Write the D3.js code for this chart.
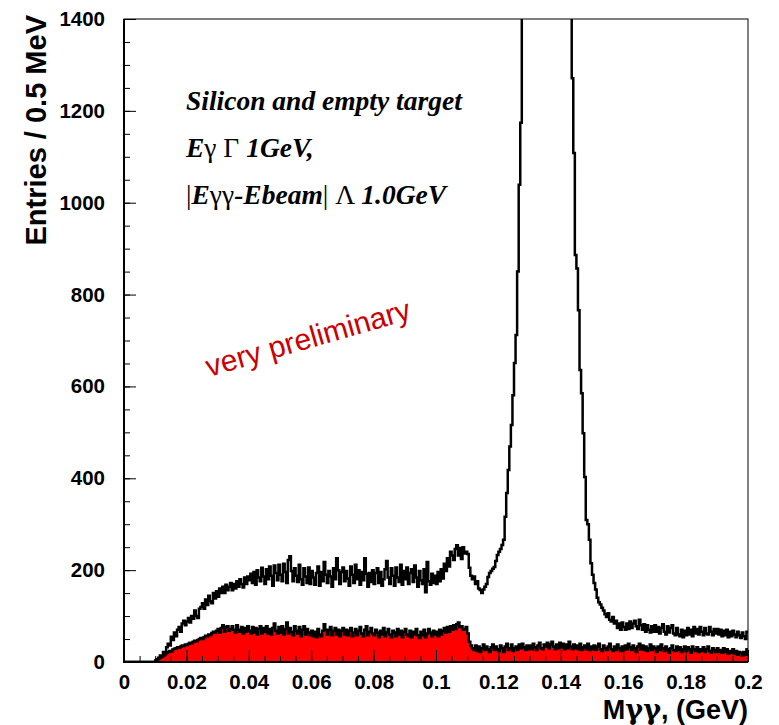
<!DOCTYPE html>
<html>
<head>
<meta charset="utf-8">
<script src="https://cdn.jsdelivr.net/npm/d3@7"></script>
<style>
  body { margin: 0; background: #fff; }
  svg { display: block; }
</style>
</head>
<body>
<svg id="chart" width="779" height="725"></svg>
<script>
// Diphoton invariant mass spectrum, 0.5 MeV bins from 0 to 0.2 GeV
const binWidth = 0.0005;

const xTickValues = [0, 0.02, 0.04, 0.06, 0.08, 0.1, 0.12, 0.14, 0.16, 0.18, 0.2];
const xTickLabels = ["0", "0.02", "0.04", "0.06", "0.08", "0.1", "0.12", "0.14", "0.16", "0.18", "0.2"];
const yTickValues = [0, 200, 400, 600, 800, 1000, 1200, 1400];

// Silicon target, entries per bin (one row = 20 bins = 0.01 GeV)
const siliconCounts = [
  0, 0, 0, 0, 0, 0, 0, 0, 0, 0, 0, 0, 0, 0, 0, 0, 0, 0, 0, 0,
  2, 6, 9, 14, 12, 22, 20, 32, 40, 36, 55, 48, 64, 56, 70, 76, 66, 84, 90, 80,
  88, 96, 86, 100, 94, 112, 100, 96, 116, 120, 128, 116, 136, 124, 144, 132, 128, 150, 138, 154,
  142, 160, 150, 164, 150, 168, 156, 164, 172, 156, 170, 160, 176, 164, 180, 170, 162, 184, 170, 186,
  178, 192, 172, 196, 168, 200, 184, 176, 205, 186, 170, 202, 180, 208, 188, 166, 210, 194, 178, 212,
  190, 176, 214, 196, 172, 222, 230, 198, 176, 204, 188, 174, 212, 180, 168, 204, 186, 172, 206, 170,
  198, 184, 168, 194, 208, 166, 196, 176, 218, 190, 172, 198, 186, 164, 204, 180, 226, 200, 170, 196,
  206, 176, 198, 182, 166, 208, 190, 172, 212, 180, 200, 168, 196, 178, 226, 192, 164, 194, 174, 200,
  170, 194, 204, 172, 196, 166, 180, 202, 220, 184, 170, 204, 188, 166, 206, 184, 174, 212, 168, 198,
  180, 206, 170, 194, 202, 174, 210, 184, 164, 198, 178, 170, 202, 152, 218, 176, 168, 192, 172, 188,
  170, 196, 176, 202, 182, 214, 198, 226, 208, 240, 232, 222, 246, 254, 232, 248, 224, 250, 236, 240,
  235, 205, 188, 180, 186, 170, 176, 160, 157, 150, 158, 164, 170, 185, 194, 198, 203, 207, 220, 233,
  240, 246, 255, 266, 316, 368, 418, 469, 516, 581, 651, 712, 850, 1039, 1174, 1460, 1650, 1880, 2120, 2380,
  2650, 2900, 3150, 3380, 3580, 3760, 3900, 4010, 4080, 4120, 4140, 4120, 4060, 3980, 3850, 3690, 3500, 3280, 3040, 2790,
  2530, 2270, 2020, 1800, 1620, 1500, 1420, 1271, 1108, 886, 857, 766, 636, 585, 498, 403, 309, 300, 266, 215,
  190, 172, 158, 140, 130, 125, 118, 112, 104, 98, 106, 92, 88, 98, 84, 90, 74, 84, 70, 86,
  76, 70, 84, 72, 88, 74, 84, 90, 78, 72, 92, 80, 70, 82, 66, 80, 70, 64, 78, 66,
  80, 66, 76, 62, 74, 82, 66, 60, 78, 64, 74, 80, 62, 58, 74, 60, 56, 70, 54, 68,
  58, 74, 60, 70, 56, 76, 62, 72, 60, 76, 66, 58, 74, 62, 60, 76, 66, 58, 72, 62,
  72, 60, 70, 56, 68, 58, 70, 54, 66, 56, 68, 60, 54, 66, 58, 52, 64, 56, 50, 66
];

// Empty target, entries per bin
const emptyCounts = [
  0, 0, 0, 0, 0, 0, 0, 0, 0, 0, 0, 0, 0, 0, 0, 0, 0, 0, 0, 0,
  3, 6, 8, 10, 12, 14, 17, 20, 22, 24, 23, 27, 29, 30, 32, 31, 34, 36, 35, 38,
  37, 40, 42, 41, 44, 46, 45, 48, 50, 52, 50, 54, 57, 56, 60, 59, 63, 66, 64, 68,
  72, 64, 74, 80, 66, 76, 78, 68, 72, 78, 70, 64, 80, 70, 66, 76, 62, 74, 66, 78,
  68, 62, 76, 64, 74, 60, 72, 78, 62, 74, 66, 78, 62, 72, 60, 74, 84, 68, 62, 76,
  64, 78, 60, 72, 86, 62, 74, 66, 58, 78, 68, 62, 76, 56, 70, 78, 60, 72, 64, 58,
  68, 56, 66, 54, 72, 60, 56, 68, 82, 70, 60, 70, 76, 58, 68, 74, 60, 70, 56, 68,
  74, 60, 70, 58, 68, 74, 56, 64, 72, 58, 68, 76, 62, 56, 70, 78, 58, 66, 74, 62,
  58, 70, 64, 54, 68, 60, 74, 56, 64, 72, 60, 54, 68, 64, 56, 72, 60, 68, 54, 66,
  72, 60, 56, 68, 54, 66, 60, 72, 58, 52, 66, 58, 70, 54, 62, 72, 64, 56, 68, 60,
  66, 56, 70, 60, 68, 74, 64, 76, 66, 78, 70, 80, 72, 82, 86, 76, 78, 70, 72, 76,
  62, 44, 36, 30, 26, 36, 24, 34, 22, 30, 38, 26, 34, 28, 22, 32, 38, 26, 34, 28,
  24, 36, 30, 22, 34, 40, 26, 30, 38, 24, 30, 34, 26, 38, 30, 40, 32, 26, 36, 28,
  36, 28, 40, 32, 26, 36, 42, 30, 28, 38, 34, 42, 30, 38, 44, 34, 28, 38, 30, 42,
  32, 40, 28, 38, 30, 44, 34, 28, 38, 30, 36, 28, 40, 26, 32, 36, 28, 40, 26, 34,
  28, 36, 26, 34, 40, 28, 24, 36, 30, 26, 34, 40, 28, 24, 34, 26, 38, 30, 24, 34,
  26, 36, 28, 40, 32, 26, 36, 30, 22, 34, 40, 28, 36, 26, 34, 24, 30, 38, 26, 34,
  30, 22, 34, 26, 38, 30, 24, 34, 28, 20, 30, 36, 26, 24, 34, 26, 32, 22, 28, 34,
  24, 32, 28, 20, 34, 28, 24, 32, 22, 28, 24, 32, 22, 28, 34, 24, 20, 30, 26, 22,
  30, 22, 26, 20, 30, 22, 28, 18, 24, 20, 28, 18, 24, 16, 22, 20, 14, 22, 16, 28
];

const svg = d3.select("#chart");
const frame = { left: 124, right: 748, top: 19, bottom: 662 };

const x = d3.scaleLinear().domain([0, 0.2]).range([frame.left, frame.right]);
const y = d3.scaleLinear().domain([0, 1400]).range([frame.bottom, frame.top]);

// Bin edges paired with counts for step drawing
function stepPoints(counts) {
  const pts = counts.map((c, i) => [i * binWidth, c]);
  pts.push([counts.length * binWidth, counts[counts.length - 1]]);
  return pts;
}

svg.append("defs").append("clipPath").attr("id", "plotClip")
  .append("rect")
  .attr("x", frame.left).attr("y", frame.top)
  .attr("width", frame.right - frame.left)
  .attr("height", frame.bottom - frame.top);

const plot = svg.append("g").attr("clip-path", "url(#plotClip)");

const stepLine = d3.line()
  .x(d => x(d[0])).y(d => y(d[1]))
  .curve(d3.curveStepAfter);

const stepArea = d3.area()
  .x(d => x(d[0])).y0(y(0)).y1(d => y(d[1]))
  .curve(d3.curveStepAfter);

// Empty target: red filled histogram
plot.append("path")
  .datum(stepPoints(emptyCounts))
  .attr("d", stepArea)
  .attr("fill", "#ff0000");

// Silicon target outline
plot.append("path")
  .datum(stepPoints(siliconCounts))
  .attr("d", stepLine)
  .attr("fill", "none")
  .attr("stroke", "#000")
  .attr("stroke-width", 2.5);

// Empty target outline
plot.append("path")
  .datum(stepPoints(emptyCounts))
  .attr("d", stepLine)
  .attr("fill", "none")
  .attr("stroke", "#000")
  .attr("stroke-width", 2.5);

// Axes with ticks pointing into the frame
const tickFont = "'Liberation Sans', Arial, Helvetica, sans-serif";

const yMinor = svg.append("g").attr("transform", `translate(${frame.left},0)`)
  .call(d3.axisLeft(y).tickValues(d3.range(0, 1401, 50)).tickSize(-6).tickFormat(""));
yMinor.select(".domain").remove();

const yMajor = svg.append("g").attr("transform", `translate(${frame.left},0)`)
  .call(d3.axisLeft(y).tickValues(yTickValues).tickSize(-12).tickPadding(19).tickFormat(d3.format("d")));
yMajor.select(".domain").remove();

const xMinor = svg.append("g").attr("transform", `translate(0,${frame.bottom})`)
  .call(d3.axisBottom(x).tickValues(d3.range(0, 41).map(i => i * 0.005)).tickSize(-6).tickFormat(""));
xMinor.select(".domain").remove();

const xMajor = svg.append("g").attr("transform", `translate(0,${frame.bottom})`)
  .call(d3.axisBottom(x).tickValues(xTickValues).tickSize(-12).tickPadding(12)
    .tickFormat((d, i) => xTickLabels[i]));
xMajor.select(".domain").remove();

[yMinor, yMajor, xMinor, xMajor].forEach(g => {
  g.selectAll("line").attr("stroke", "#000").attr("stroke-width", 1);
  g.selectAll("text")
    .attr("fill", "#000")
    .style("font-family", tickFont)
    .style("font-weight", "bold")
    .style("font-size", "20.5px");
});

// Frame
svg.append("rect")
  .attr("x", frame.left).attr("y", frame.top)
  .attr("width", frame.right - frame.left).attr("height", frame.bottom - frame.top)
  .attr("fill", "none").attr("stroke", "#000").attr("stroke-width", 1);
svg.append("line")
  .attr("x1", frame.left).attr("x2", frame.left).attr("y1", frame.top).attr("y2", frame.bottom + 1)
  .attr("stroke", "#000").attr("stroke-width", 2);
svg.append("line")
  .attr("x1", frame.left - 1).attr("x2", frame.right).attr("y1", frame.bottom).attr("y2", frame.bottom)
  .attr("stroke", "#000").attr("stroke-width", 2);

// Axis titles
svg.append("text")
  .attr("transform", `translate(46,${frame.top - 4}) rotate(-90)`)
  .attr("text-anchor", "end")
  .style("font-family", tickFont).style("font-weight", "bold").style("font-size", "29px")
  .text("Entries / 0.5 MeV");

const xTitle = svg.append("text")
  .attr("x", frame.right).attr("y", 719)
  .attr("text-anchor", "end")
  .style("font-family", tickFont).style("font-weight", "bold").style("font-size", "27px");
xTitle.append("tspan").text("M");
xTitle.append("tspan").style("font-family", "'DejaVu Serif', 'Liberation Serif', serif").style("font-weight", "bold").text("γγ");
xTitle.append("tspan").text(", (GeV)");

// Selection cuts
const serif = "'Liberation Serif', 'Times New Roman', Times, serif";
const cutLines = [
  [["Silicon and empty target", true]],
  [["E", true], ["γ Γ ", false], ["1GeV,", true]],
  [["|", false], ["E", true], ["γγ", false], ["-Ebeam", true], ["| Λ ", false], ["1.0GeV", true]]
];
cutLines.forEach((parts, i) => {
  const t = svg.append("text")
    .attr("x", 186).attr("y", 110 + i * 47)
    .style("font-family", serif).style("font-size", "27.5px");
  parts.forEach(([s, emph]) => {
    t.append("tspan")
      .style("font-weight", emph ? "bold" : "normal")
      .style("font-style", emph ? "italic" : "normal")
      .text(s);
  });
});

svg.append("text")
  .attr("transform", "translate(209,377) rotate(-16)")
  .style("font-family", tickFont).style("font-size", "30px")
  .attr("fill", "#cc0000")
  .text("very preliminary");
</script>
</body>
</html>
